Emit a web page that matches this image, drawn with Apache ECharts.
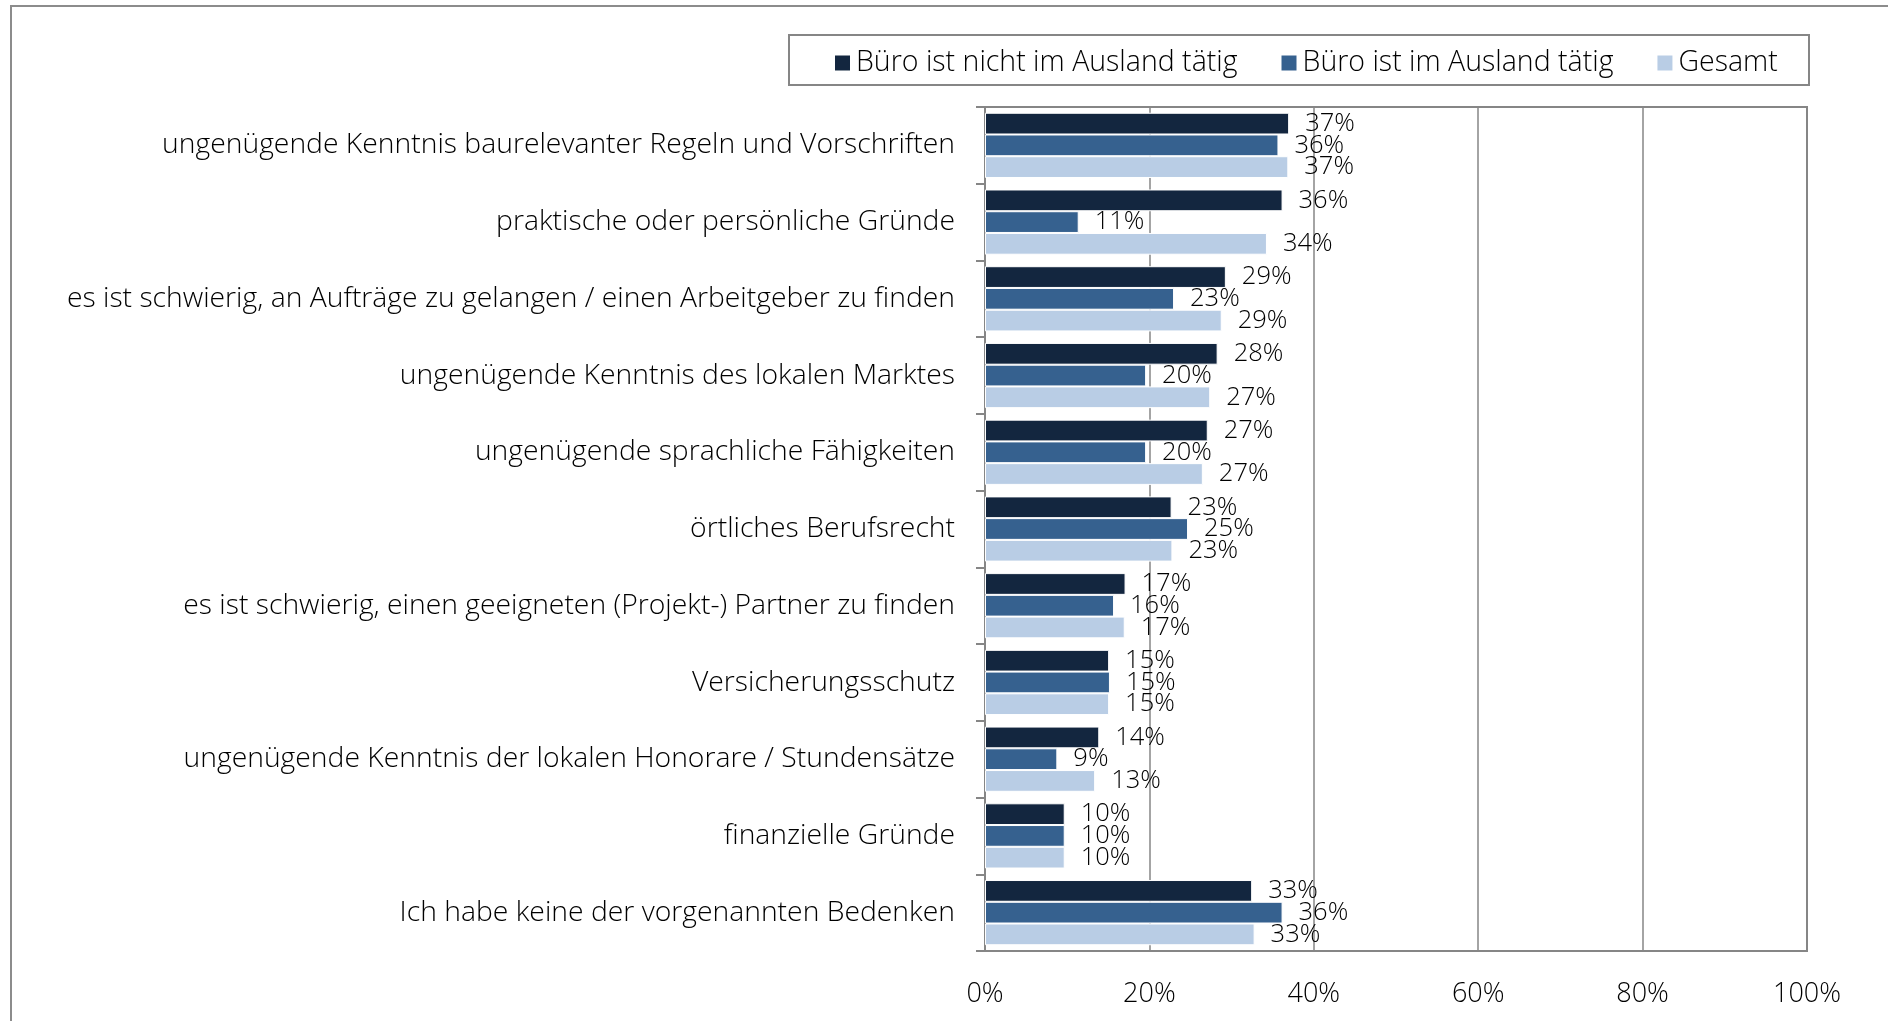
<!DOCTYPE html>
<html>
<head>
<meta charset="utf-8">
<title>Bedenken Auslandstätigkeit</title>
<script src="https://cdn.jsdelivr.net/npm/echarts@6/dist/echarts.min.js"></script>
<style>
  html, body { margin: 0; padding: 0; background: #fff; }
  #chart { width: 1888px; height: 1021px; }
</style>
</head>
<body>
<div id="chart"></div>
<script>
// categories, top to bottom
var categories = [
  'ungenügende Kenntnis baurelevanter Regeln und Vorschriften',
  'praktische oder persönliche Gründe',
  'es ist schwierig, an Aufträge zu gelangen / einen Arbeitgeber zu finden',
  'ungenügende Kenntnis des lokalen Marktes',
  'ungenügende sprachliche Fähigkeiten',
  'örtliches Berufsrecht',
  'es ist schwierig, einen geeigneten (Projekt-) Partner zu finden',
  'Versicherungsschutz',
  'ungenügende Kenntnis der lokalen Honorare / Stundensätze',
  'finanzielle Gründe',
  'Ich habe keine der vorgenannten Bedenken'
];
var seriesNames = ['Büro ist nicht im Ausland tätig', 'Büro ist im Ausland tätig', 'Gesamt'];
// values in percent
var nichtAusland = [37.0, 36.2, 29.3, 28.3, 27.1, 22.7, 17.1, 15.1, 13.9, 9.7, 32.5];
var imAusland    = [35.7, 11.4, 23.0, 19.6, 19.6, 24.7, 15.7, 15.2, 8.8, 9.7, 36.2];
var gesamt       = [36.9, 34.3, 28.8, 27.4, 26.5, 22.8, 17.0, 15.1, 13.4, 9.7, 32.8];
var xTicks = [0, 20, 40, 60, 80, 100];

var colors = ['#13263f', '#36618f', '#b9cde5'];
var font = '"Open Sans", sans-serif';
var gray = '#868686';

var chart = echarts.init(document.getElementById('chart'));

function makeSeries(name, data, color) {
  return {
    name: name,
    type: 'bar',
    data: data,
    barGap: '0%',
    barCategoryGap: '15%',
    itemStyle: { color: color, borderColor: '#fff', borderWidth: 1 },
    label: {
      show: true,
      position: 'right',
      distance: 16,
      fontFamily: font,
      fontSize: 25.5,
      fontWeight: 300,
      color: '#000',
      padding: [4, 0, 0, 0],
      formatter: function (p) { return Math.round(p.value) + '%'; }
    }
  };
}

var option = {
  animation: false,
  backgroundColor: '#fff',
  graphic: [
    {
      type: 'rect',
      shape: { x: 11, y: 6, width: 1900, height: 1050 },
      style: { fill: 'none', stroke: '#8c8c8c', lineWidth: 2 }
    },
    {
      type: 'rect',
      shape: { x: 789, y: 35, width: 1020, height: 50 },
      style: { fill: '#fff', stroke: gray, lineWidth: 2 }
    }
  ],
  legend: {
    data: seriesNames,
    left: 833,
    top: 47,
    padding: 0,
    icon: 'rect',
    itemWidth: 17,
    itemHeight: 17,
    itemGap: 42,
    textStyle: { fontFamily: font, fontSize: 28.5, fontWeight: 300, color: '#000', lineHeight: 32 }
  },
  grid: {
    left: 985,
    right: 81,
    top: 107,
    bottom: 70,
    show: true,
    borderColor: gray,
    borderWidth: 2
  },
  xAxis: {
    type: 'value',
    min: xTicks[0],
    max: xTicks[xTicks.length - 1],
    interval: 20,
    axisLine: { show: true, lineStyle: { color: gray, width: 2 } },
    axisTick: { show: false },
    splitLine: { show: true, lineStyle: { color: gray, width: 1.5 } },
    axisLabel: {
      margin: 30,
      fontFamily: font,
      fontSize: 27,
      fontWeight: 300,
      color: '#000',
      formatter: '{value}%'
    }
  },
  yAxis: {
    type: 'category',
    data: categories,
    inverse: true,
    axisLine: { show: true, lineStyle: { color: gray, width: 2 } },
    axisTick: { show: true, length: 9, lineStyle: { color: gray, width: 2 } },
    axisLabel: {
      margin: 30,
      fontFamily: font,
      fontSize: 28.3,
      fontWeight: 300,
      color: '#000',
      padding: [5, 0, 0, 0]
    }
  },
  series: [
    makeSeries(seriesNames[0], nichtAusland, colors[0]),
    makeSeries(seriesNames[1], imAusland, colors[1]),
    makeSeries(seriesNames[2], gesamt, colors[2])
  ]
};

chart.setOption(option);
</script>
</body>
</html>
